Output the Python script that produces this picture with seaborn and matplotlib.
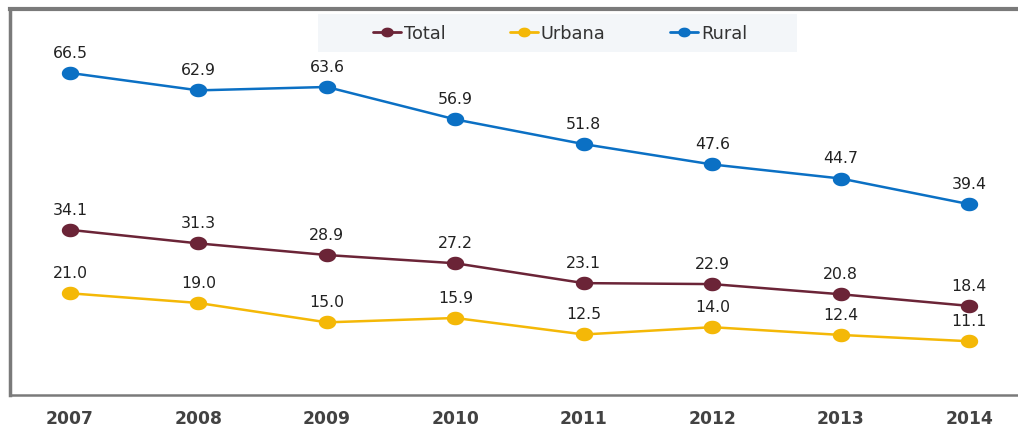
import matplotlib
matplotlib.use("Agg")
import matplotlib.pyplot as plt
import seaborn as sns
import pandas as pd
import numpy as np
from matplotlib.path import Path
from matplotlib.patches import Rectangle

years = [2007, 2008, 2009, 2010, 2011, 2012, 2013, 2014]
total = [34.1, 31.3, 28.9, 27.2, 23.1, 22.9, 20.8, 18.4]
urbana = [21.0, 19.0, 15.0, 15.9, 12.5, 14.0, 12.4, 11.1]
rural = [66.5, 62.9, 63.6, 56.9, 51.8, 47.6, 44.7, 39.4]
series_names = ["Total", "Urbana", "Rural"]
colors = {"Total": "#6b2437", "Urbana": "#f4b807", "Rural": "#0b70c4"}

rows = []
for name, vals in zip(series_names, [total, urbana, rural]):
    for y, v in zip(years, vals):
        rows.append({"year": y, "value": v, "serie": name})
df = pd.DataFrame(rows)

# slightly flattened circle used as the point marker
theta = np.linspace(0, 2 * np.pi, 60)
oval = Path(np.column_stack([np.cos(theta), 0.78 * np.sin(theta)]), closed=True)

sns.set_theme(style="white")
plt.rcParams["font.family"] = ["DejaVu Sans"]

fig = plt.figure(figsize=(10.18, 4.39), dpi=100)
ax = fig.add_axes([10 / 1018, 43 / 439, 1008 / 1018, 386 / 439])

sns.lineplot(data=df, x="year", y="value", hue="serie", hue_order=series_names,
             palette=colors, marker=oval, markersize=12.5, markeredgewidth=0,
             linewidth=1.8, ax=ax)

for _, r in df.iterrows():
    ax.annotate(f"{r['value']:.1f}", (r["year"], r["value"]),
                xytext=(0, 15), textcoords="offset points",
                ha="center", va="center", fontsize=11.3, color="#222222")

ax.set_xlim(2007 - 0.467, 2014 + 0.38)
ax.set_ylim(0, 79.7)
ax.set_xticks(years)
ax.set_xticklabels([str(y) for y in years], fontsize=12.3, fontweight="bold",
                   color="#424242")
ax.tick_params(axis="x", length=0, pad=10)
ax.set_yticks([])
ax.set_xlabel("")
ax.set_ylabel("")

for side, lw in [("top", 3), ("left", 2.5), ("bottom", 1.8)]:
    ax.spines[side].set_color("#7a7a7a")
    ax.spines[side].set_linewidth(lw)
ax.spines["right"].set_visible(False)

# pale band behind the legend
ax.add_patch(Rectangle((0.3056, 0.889), 0.475, 0.098, transform=ax.transAxes,
                       facecolor="#f3f6f9", edgecolor="none", zorder=1))

leg = ax.legend(loc="center", bbox_to_anchor=(0.5456, 0.938), ncol=3,
                frameon=False, fontsize=12.8, handlelength=1.6, handletextpad=0.15,
                columnspacing=3.6)
for h in leg.legend_handles:
    h.set_markersize(9)
    h.set_linewidth(2)
for t in leg.get_texts():
    t.set_color("#333333")

fig.savefig("out.png", dpi=100)
